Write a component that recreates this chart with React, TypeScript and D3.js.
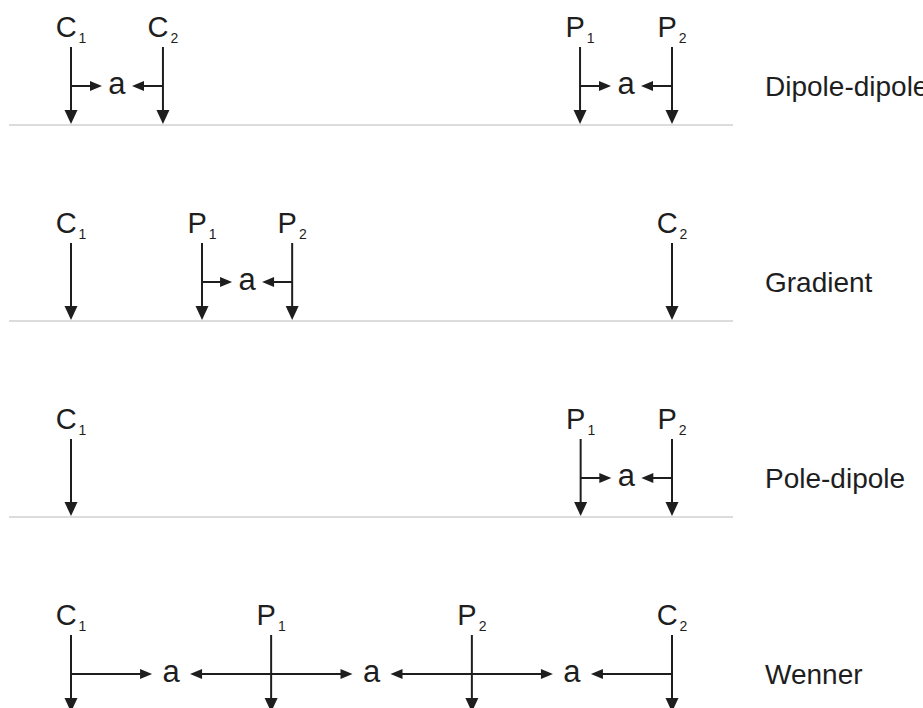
import React from "react";
import * as d3 from "d3";

// Array names (row labels)
const arrayNames = ["Dipole-dipole", "Gradient", "Pole-dipole", "Wenner"];

// Electrode letters, subscripts and positions along the profile (0..100 units)
const dipoleDipoleNames = ["C", "C", "P", "P"];
const dipoleDipoleSubs = ["1", "2", "1", "2"];
const dipoleDipolePos = [0, 15.3, 84.7, 100];

const gradientNames = ["C", "P", "P", "C"];
const gradientSubs = ["1", "1", "2", "2"];
const gradientPos = [0, 21.8, 36.8, 100];

const poleDipoleNames = ["C", "P", "P"];
const poleDipoleSubs = ["1", "1", "2"];
const poleDipolePos = [0, 84.8, 100];

const wennerNames = ["C", "P", "P", "C"];
const wennerSubs = ["1", "1", "2", "2"];
const wennerPos = [0, 33.3, 66.7, 100];

// Pairs of electrode indices between which the spacing "a" is marked
const dipoleDipoleSpacings = [[0, 1], [2, 3]];
const gradientSpacings = [[1, 2]];
const poleDipoleSpacings = [[1, 2]];
const wennerSpacings = [[0, 1], [1, 2], [2, 3]];

const spacingLabel = "a";

const W = 923;
const H = 708;
const INK = "#1e1e1e";
const FONT = "'Liberation Sans', Arial, Helvetica, sans-serif";

export default function App() {
  const rows = [
    { names: dipoleDipoleNames, subs: dipoleDipoleSubs, pos: dipoleDipolePos, sp: dipoleDipoleSpacings },
    { names: gradientNames, subs: gradientSubs, pos: gradientPos, sp: gradientSpacings },
    { names: poleDipoleNames, subs: poleDipoleSubs, pos: poleDipolePos, sp: poleDipoleSpacings },
    { names: wennerNames, subs: wennerSubs, pos: wennerPos, sp: wennerSpacings },
  ];

  const x = d3.scaleLinear().domain([0, 100]).range([71, 672]);
  const yGround = d3.scaleLinear().domain([0, 3]).range([125, 713]);

  const vHead = (tx: number, ty: number) =>
    `M${tx},${ty} L${tx - 6.5},${ty - 14} L${tx + 6.5},${ty - 14} Z`;
  const hHead = (tx: number, ty: number, dir: number) =>
    `M${tx},${ty} L${tx - dir * 12},${ty - 5} L${tx - dir * 12},${ty + 5} Z`;

  return (
    <div style={{ position: "fixed", left: 0, top: 0, width: W, height: H, background: "#fff" }}>
      <svg width={W} height={H} style={{ display: "block" }}>
        <rect width={W} height={H} fill="#fff" />
        {rows.map((row, ri) => {
          const g = yGround(ri);
          const arrowY = g - 39;
          const lineTop = g - 78;
          const labelBase = g - 88;
          return (
            <g key={ri}>
              <line x1={9} x2={733} y1={g} y2={g} stroke="#dcdcdc" strokeWidth={2} />
              {row.pos.map((p, i) => {
                const px = x(p);
                return (
                  <g key={i}>
                    <text
                      x={px}
                      y={labelBase}
                      textAnchor="middle"
                      fontFamily={FONT}
                      fontSize={29}
                      fill={INK}
                    >
                      {row.names[i]}
                      <tspan fontSize={14} dy={6} dx={2}>
                        {row.subs[i]}
                      </tspan>
                    </text>
                    <line x1={px} x2={px} y1={lineTop} y2={g - 12} stroke={INK} strokeWidth={2} />
                    <path d={vHead(px, g - 1)} fill={INK} />
                  </g>
                );
              })}
              {row.sp.map(([a, b], k) => {
                const xa = x(row.pos[a]);
                const xb = x(row.pos[b]);
                const mid = (xa + xb) / 2;
                const half = xb - xa > 150 ? 19 : 15;
                return (
                  <g key={k}>
                    <line x1={xa} x2={mid - half - 10} y1={arrowY} y2={arrowY} stroke={INK} strokeWidth={2} />
                    <path d={hHead(mid - half, arrowY, 1)} fill={INK} />
                    <line x1={xb} x2={mid + half + 10} y1={arrowY} y2={arrowY} stroke={INK} strokeWidth={2} />
                    <path d={hHead(mid + half, arrowY, -1)} fill={INK} />
                    <text
                      x={mid}
                      y={arrowY + 8}
                      textAnchor="middle"
                      fontFamily={FONT}
                      fontSize={31}
                      fill={INK}
                    >
                      {spacingLabel}
                    </text>
                  </g>
                );
              })}
              <text x={765} y={arrowY + 10} fontFamily={FONT} fontSize={28} fill={INK}>
                {arrayNames[ri]}
              </text>
            </g>
          );
        })}
      </svg>
    </div>
  );
}
